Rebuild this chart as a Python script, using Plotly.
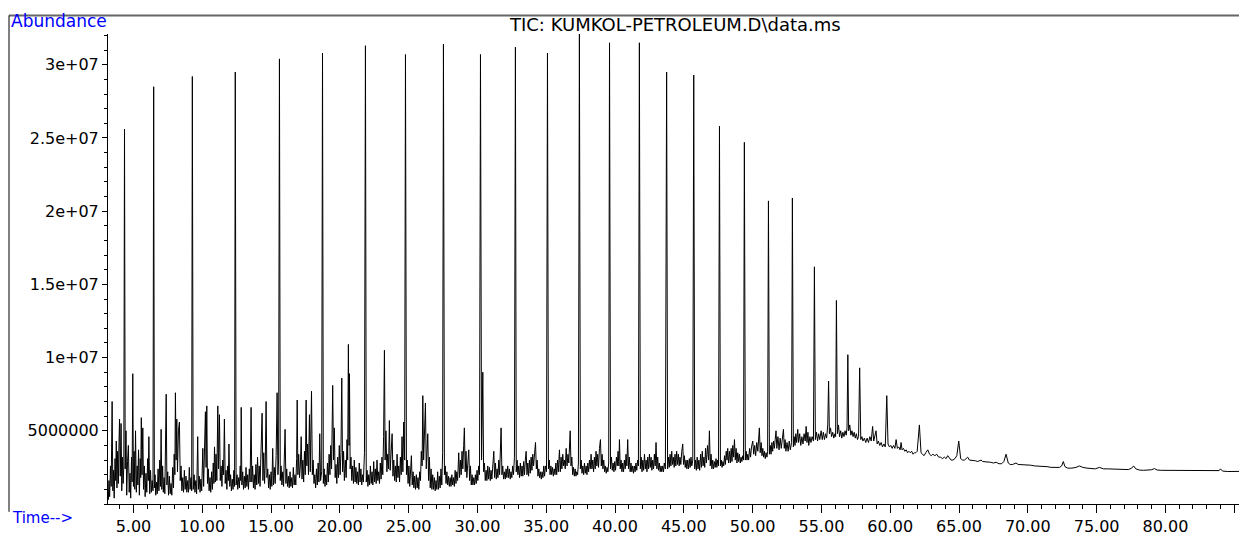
import plotly.graph_objects as go

# ---------------------------------------------------------------- data
# Retention time (min) / abundance (millions of counts).

# n-alkane series: the tall regular peaks
alkane_rt = [4.35, 6.47, 9.28, 12.40, 15.61, 18.74, 21.86, 24.77, 27.53, 30.22,
             32.76, 35.09, 37.41, 39.60, 41.77, 43.75, 45.72, 47.59, 49.40,
             51.15, 52.89, 54.49, 56.09]
alkane_abund = [25.6, 28.5, 29.2, 29.5, 30.4, 30.8, 31.3, 30.7, 31.4, 30.7,
                31.2, 30.8, 32.1, 31.5, 31.5, 29.5, 29.3, 25.8, 24.7,
                20.7, 20.9, 16.2, 13.9]

# dense grass of small peaks, 3 - 25 min
trace_early = [
    (3.15, 1.0), (3.18, 0.3), (3.22, 1.6), (3.27, 0.5), (3.33, 2.6), (3.38, 1.2),
    (3.45, 7.0), (3.50, 0.9), (3.55, 2.3), (3.60, 0.4), (3.66, 3.1), (3.71, 1.6),
    (3.75, 4.3), (3.80, 1.1), (3.85, 3.6), (3.90, 1.4), (3.95, 4.2), (3.99, 5.8),
    (4.04, 1.9), (4.10, 5.5), (4.15, 0.9), (4.20, 3.2), (4.25, 1.4), (4.30, 2.6),
    (4.40, 2.4), (4.46, 5.0), (4.51, 0.6), (4.57, 2.9), (4.63, 4.0), (4.69, 0.8),
    (4.75, 2.1), (4.80, 0.4), (4.86, 3.2), (4.90, 1.5), (4.95, 8.9), (5.00, 1.2),
    (5.05, 3.6), (5.10, 1.0), (5.15, 5.0), (5.21, 0.8), (5.27, 2.6), (5.32, 1.3),
    (5.37, 3.7), (5.43, 0.6), (5.49, 3.1), (5.53, 1.8), (5.57, 5.9), (5.62, 2.0),
    (5.68, 5.2), (5.73, 1.0), (5.79, 2.6), (5.85, 0.5), (5.91, 2.1), (5.97, 0.8),
    (6.03, 3.1), (6.08, 1.6), (6.12, 4.6), (6.18, 0.7), (6.24, 2.3), (6.30, 0.8),
    (6.36, 1.6), (6.42, 0.9), (6.52, 1.1), (6.57, 2.0), (6.62, 0.6), (6.68, 1.5),
    (6.73, 0.7), (6.79, 2.4), (6.85, 0.9), (6.91, 3.0), (6.96, 1.2), (7.01, 5.1),
    (7.06, 1.0), (7.12, 2.6), (7.17, 0.8), (7.23, 1.8), (7.28, 0.7), (7.33, 3.5),
    (7.38, 7.5), (7.43, 1.3), (7.49, 2.2), (7.55, 0.6), (7.61, 1.9), (7.67, 0.7),
    (7.73, 1.4), (7.79, 0.6), (7.85, 2.5), (7.91, 1.1), (7.96, 3.4), (8.01, 2.0),
    (8.05, 7.6), (8.10, 3.0), (8.15, 5.8), (8.20, 2.2), (8.27, 5.0), (8.34, 5.6),
    (8.40, 1.6), (8.46, 2.6), (8.52, 0.9), (8.58, 1.8), (8.64, 0.8), (8.70, 2.3),
    (8.76, 1.0), (8.82, 1.9), (8.88, 0.8), (8.94, 1.6), (9.00, 0.8), (9.06, 2.5),
    (9.12, 1.0), (9.18, 1.8), (9.23, 0.9), (9.34, 1.0), (9.41, 2.0), (9.47, 0.8),
    (9.53, 1.6), (9.59, 0.7), (9.63, 2.5), (9.67, 4.6), (9.72, 1.0), (9.78, 1.9),
    (9.84, 0.8), (9.90, 1.7), (9.96, 0.9), (10.04, 3.8), (10.10, 1.2), (10.16, 3.0),
    (10.23, 6.3), (10.28, 2.5), (10.33, 6.7), (10.38, 1.4), (10.44, 2.4), (10.50, 0.9),
    (10.56, 1.8), (10.62, 0.8), (10.68, 2.2), (10.74, 1.0), (10.80, 2.8), (10.85, 1.4),
    (10.89, 3.9), (10.95, 1.5), (11.00, 3.4), (11.06, 1.6), (11.13, 6.7), (11.18, 2.4),
    (11.25, 6.1), (11.31, 1.6), (11.37, 2.6), (11.43, 1.2), (11.49, 3.0), (11.55, 2.0),
    (11.61, 5.8), (11.67, 1.4), (11.73, 2.3), (11.79, 1.0), (11.85, 2.6), (11.90, 1.6),
    (11.94, 4.1), (12.00, 1.2), (12.06, 2.0), (12.12, 0.9), (12.18, 1.7), (12.24, 1.0),
    (12.30, 2.3), (12.35, 1.2), (12.46, 1.3), (12.53, 2.0), (12.58, 1.0), (12.64, 1.8),
    (12.70, 1.1), (12.76, 2.6), (12.80, 1.6), (12.83, 6.6), (12.88, 1.3), (12.94, 2.2),
    (13.00, 1.0), (13.06, 1.9), (13.12, 1.1), (13.18, 2.5), (13.24, 1.2), (13.30, 2.0),
    (13.36, 1.0), (13.42, 2.4), (13.48, 1.5), (13.55, 6.6), (13.60, 1.5), (13.66, 2.6),
    (13.72, 1.1), (13.78, 2.0), (13.84, 1.0), (13.90, 2.7), (13.96, 1.3), (14.02, 3.2),
    (14.08, 1.4), (14.14, 2.6), (14.20, 1.2), (14.27, 4.0), (14.35, 6.2), (14.41, 1.6),
    (14.47, 3.5), (14.53, 1.4), (14.58, 2.8), (14.64, 7.0), (14.70, 1.8), (14.76, 2.4),
    (14.82, 1.1), (14.88, 2.0), (14.94, 1.0), (15.00, 2.2), (15.06, 1.2), (15.12, 3.8),
    (15.18, 1.3), (15.24, 2.5), (15.30, 1.4), (15.37, 3.3), (15.44, 7.6), (15.50, 2.0),
    (15.55, 3.0), (15.67, 1.6), (15.73, 2.6), (15.79, 1.3), (15.85, 2.2), (15.91, 1.2),
    (15.96, 3.0), (16.02, 5.1), (16.08, 1.4), (16.14, 2.4), (16.20, 1.2), (16.26, 1.9),
    (16.32, 1.1), (16.38, 2.2), (16.44, 1.2), (16.50, 1.8), (16.56, 1.1), (16.62, 2.5),
    (16.68, 1.3), (16.74, 2.0), (16.80, 1.3), (16.86, 3.1), (16.90, 7.1), (16.95, 2.0),
    (17.01, 3.4), (17.07, 1.8), (17.13, 2.6), (17.19, 4.6), (17.25, 1.7), (17.31, 3.0),
    (17.37, 1.5), (17.43, 3.6), (17.49, 2.0), (17.55, 7.1), (17.60, 2.6), (17.66, 4.1),
    (17.72, 2.0), (17.79, 6.1), (17.85, 2.2), (17.94, 7.7), (18.00, 2.0), (18.06, 3.0),
    (18.12, 1.4), (18.18, 2.0), (18.24, 1.1), (18.30, 2.4), (18.36, 1.3), (18.42, 2.8),
    (18.48, 1.5), (18.54, 4.8), (18.60, 1.6), (18.68, 2.2), (18.80, 1.4), (18.86, 2.4),
    (18.92, 1.2), (18.98, 2.0), (19.04, 1.3), (19.10, 2.8), (19.16, 1.5), (19.22, 3.4),
    (19.28, 2.0), (19.34, 4.0), (19.40, 2.4), (19.48, 8.1), (19.54, 3.0), (19.60, 5.2),
    (19.66, 1.8), (19.72, 2.7), (19.78, 1.4), (19.84, 3.2), (19.90, 1.8), (19.96, 4.0),
    (20.02, 2.0), (20.08, 3.5), (20.14, 8.6), (20.20, 2.2), (20.27, 3.6), (20.33, 1.6),
    (20.40, 3.0), (20.46, 1.8), (20.52, 4.4), (20.57, 3.0), (20.62, 10.9), (20.67, 4.0),
    (20.70, 8.9), (20.75, 2.4), (20.81, 3.2), (20.87, 1.6), (20.93, 2.6), (20.99, 1.4),
    (21.05, 3.0), (21.11, 1.5), (21.17, 2.5), (21.23, 1.4), (21.29, 2.2), (21.35, 1.3),
    (21.41, 2.8), (21.47, 1.5), (21.53, 2.4), (21.59, 1.3), (21.65, 2.0), (21.71, 1.5),
    (21.79, 3.5), (21.92, 1.5), (21.98, 2.3), (22.04, 1.2), (22.10, 2.0), (22.16, 1.3),
    (22.22, 2.6), (22.28, 1.4), (22.34, 2.2), (22.40, 1.3), (22.46, 2.9), (22.52, 1.5),
    (22.58, 2.4), (22.64, 1.4), (22.70, 3.0), (22.76, 1.6), (22.82, 2.2), (22.88, 1.4),
    (22.94, 2.8), (23.00, 1.7), (23.06, 3.2), (23.12, 2.0), (23.18, 4.6), (23.24, 10.5),
    (23.29, 3.0), (23.35, 5.0), (23.42, 2.2), (23.48, 3.4), (23.54, 2.4), (23.60, 5.7),
    (23.66, 2.3), (23.74, 3.6), (23.80, 4.8), (23.86, 1.9), (23.92, 3.0), (23.98, 1.6),
    (24.04, 2.6), (24.10, 1.5), (24.16, 3.4), (24.22, 1.8), (24.28, 2.6), (24.34, 1.5),
    (24.40, 3.2), (24.46, 2.0), (24.52, 4.6), (24.58, 2.2), (24.64, 5.6), (24.71, 3.0),
]

# 25 - 46 min: grass thins out, baseline creeps up
trace_mid = [
    (24.84, 2.0), (24.90, 3.0), (24.96, 1.4), (25.02, 2.6), (25.08, 1.2), (25.14, 2.4),
    (25.20, 3.3), (25.26, 1.3), (25.32, 2.2), (25.38, 1.1), (25.44, 1.9), (25.50, 1.0),
    (25.56, 2.0), (25.62, 1.1), (25.68, 1.8), (25.74, 1.0), (25.80, 2.2), (25.86, 1.6),
    (25.92, 3.6), (25.98, 2.6), (26.03, 7.4), (26.09, 3.0), (26.15, 5.0), (26.22, 6.9),
    (26.28, 2.4), (26.33, 4.2), (26.39, 4.8), (26.45, 1.6), (26.51, 3.2), (26.57, 1.1),
    (26.63, 2.4), (26.69, 1.0), (26.75, 2.0), (26.81, 1.0), (26.87, 1.8), (26.93, 0.9),
    (26.99, 1.6), (27.05, 1.0), (27.11, 2.2), (27.17, 1.0), (27.23, 1.9), (27.29, 1.1),
    (27.35, 2.4), (27.41, 1.3), (27.47, 3.5), (27.60, 2.0), (27.66, 2.6), (27.72, 1.4),
    (27.78, 2.2), (27.84, 1.3), (27.90, 1.9), (27.96, 1.2), (28.02, 1.8), (28.08, 1.2),
    (28.14, 2.0), (28.20, 1.3), (28.26, 1.8), (28.32, 1.2), (28.38, 2.3), (28.44, 1.4),
    (28.50, 2.2), (28.56, 1.6), (28.64, 3.5), (28.70, 1.8), (28.76, 3.0), (28.82, 2.0),
    (28.88, 3.6), (28.94, 2.4), (29.00, 4.0), (29.05, 5.2), (29.11, 2.2), (29.17, 3.6),
    (29.23, 1.8), (29.30, 3.0), (29.37, 3.7), (29.43, 1.6), (29.49, 2.6), (29.55, 1.3),
    (29.61, 2.0), (29.67, 1.3), (29.73, 1.8), (29.79, 1.3), (29.85, 2.0), (29.91, 1.4),
    (29.97, 2.3), (30.03, 1.6), (30.09, 2.6), (30.15, 2.0), (30.30, 3.0), (30.39, 9.0),
    (30.45, 2.2), (30.51, 2.8), (30.57, 1.6), (30.63, 2.3), (30.69, 1.6), (30.75, 2.6),
    (30.81, 1.7), (30.87, 2.5), (30.93, 1.6), (30.99, 2.3), (31.05, 1.7), (31.12, 2.8),
    (31.19, 3.6), (31.25, 1.8), (31.31, 2.8), (31.37, 1.7), (31.43, 2.4), (31.49, 1.8),
    (31.55, 3.0), (31.61, 2.0), (31.66, 3.4), (31.72, 5.2), (31.78, 2.0), (31.84, 2.6),
    (31.90, 1.7), (31.96, 2.2), (32.02, 1.7), (32.08, 2.4), (32.14, 1.8), (32.20, 2.6),
    (32.26, 1.8), (32.32, 2.4), (32.38, 1.7), (32.44, 2.2), (32.50, 1.8), (32.56, 2.6),
    (32.62, 2.0), (32.69, 3.2), (32.82, 2.2), (32.88, 3.0), (32.94, 2.0), (33.00, 2.6),
    (33.06, 1.8), (33.12, 2.8), (33.18, 1.9), (33.24, 2.6), (33.30, 1.9), (33.36, 2.9),
    (33.42, 2.0), (33.48, 3.0), (33.54, 3.6), (33.60, 2.0), (33.66, 2.8), (33.72, 1.9),
    (33.78, 3.0), (33.84, 2.1), (33.90, 3.2), (33.96, 2.3), (34.02, 3.4), (34.08, 2.6),
    (34.15, 3.8), (34.22, 4.2), (34.28, 2.4), (34.34, 3.0), (34.40, 1.9), (34.46, 2.4),
    (34.52, 1.8), (34.58, 2.2), (34.64, 1.7), (34.70, 2.2), (34.76, 1.8), (34.82, 2.6),
    (34.88, 1.9), (34.94, 2.6), (35.02, 2.2), (35.16, 2.4), (35.22, 3.0), (35.28, 2.0),
    (35.34, 2.6), (35.40, 2.0), (35.46, 2.5), (35.52, 1.9), (35.58, 2.4), (35.64, 2.0),
    (35.70, 2.8), (35.76, 2.0), (35.82, 3.0), (35.88, 2.2), (35.96, 3.7), (36.02, 2.2),
    (36.08, 3.2), (36.14, 2.4), (36.20, 3.4), (36.26, 2.6), (36.32, 3.0), (36.38, 2.4),
    (36.45, 3.8), (36.51, 2.6), (36.58, 3.4), (36.64, 2.8), (36.70, 4.0), (36.74, 5.0),
    (36.80, 2.6), (36.86, 3.2), (36.92, 2.0), (36.98, 2.5), (37.04, 1.9), (37.10, 2.4),
    (37.16, 1.9), (37.22, 2.2), (37.28, 2.0), (37.34, 2.8), (37.48, 2.4), (37.54, 3.0),
    (37.60, 2.1), (37.66, 2.6), (37.72, 2.0), (37.78, 2.8), (37.84, 2.1), (37.90, 2.6),
    (37.96, 2.0), (38.02, 2.8), (38.08, 2.2), (38.14, 3.0), (38.20, 2.4), (38.26, 3.4),
    (38.32, 2.4), (38.38, 3.0), (38.44, 2.2), (38.50, 3.2), (38.56, 2.4), (38.62, 3.6),
    (38.68, 2.6), (38.74, 3.4), (38.80, 2.5), (38.87, 3.8), (38.94, 4.4), (39.00, 2.6),
    (39.06, 3.4), (39.12, 2.4), (39.18, 3.0), (39.24, 2.2), (39.30, 2.6), (39.36, 2.1),
    (39.42, 2.5), (39.48, 2.2), (39.54, 2.8), (39.67, 2.4), (39.74, 3.2), (39.80, 2.3),
    (39.86, 2.8), (39.92, 2.2), (39.98, 2.9), (40.04, 2.3), (40.10, 3.2), (40.16, 2.6),
    (40.22, 3.6), (40.28, 2.6), (40.32, 4.4), (40.38, 2.4), (40.44, 3.0), (40.50, 2.2),
    (40.56, 2.8), (40.62, 2.2), (40.68, 3.0), (40.74, 2.4), (40.80, 3.4), (40.86, 2.6),
    (40.92, 4.4), (40.98, 2.4), (41.04, 3.2), (41.10, 2.2), (41.16, 2.8), (41.22, 2.2),
    (41.28, 2.6), (41.34, 2.1), (41.40, 2.6), (41.46, 2.2), (41.52, 2.8), (41.58, 2.3),
    (41.64, 3.0), (41.70, 2.6), (41.84, 2.4), (41.90, 3.2), (41.96, 2.2), (42.02, 3.0),
    (42.08, 2.3), (42.14, 3.4), (42.20, 2.4), (42.26, 3.0), (42.32, 2.2), (42.38, 3.2),
    (42.44, 2.4), (42.50, 3.4), (42.56, 2.5), (42.62, 3.2), (42.68, 2.3), (42.74, 3.0),
    (42.80, 2.4), (42.86, 3.4), (42.92, 2.6), (42.98, 4.2), (43.04, 2.4), (43.10, 3.2),
    (43.16, 2.3), (43.22, 2.8), (43.28, 2.2), (43.34, 2.6), (43.40, 2.2), (43.46, 2.6),
    (43.52, 2.2), (43.58, 2.8), (43.66, 2.4), (43.82, 2.4), (43.88, 3.2), (43.94, 2.5),
    (44.00, 3.4), (44.06, 2.6), (44.12, 3.6), (44.18, 2.7), (44.24, 3.2), (44.30, 2.5),
    (44.36, 3.4), (44.42, 2.6), (44.48, 3.6), (44.54, 2.7), (44.60, 3.4), (44.66, 2.6),
    (44.72, 3.2), (44.78, 2.7), (44.85, 3.6), (44.92, 4.1), (44.98, 2.7), (45.04, 3.3),
    (45.10, 2.5), (45.16, 3.0), (45.22, 2.4), (45.28, 3.0), (45.34, 2.4), (45.40, 3.1),
    (45.46, 2.5), (45.52, 3.2), (45.58, 2.6), (45.65, 3.0),
]

# 46 - 62 min: the unresolved hump
trace_hump = [
    (45.79, 2.4), (45.85, 3.0), (45.91, 2.3), (45.97, 3.2), (46.03, 2.4), (46.09, 3.0),
    (46.15, 2.3), (46.22, 3.4), (46.28, 2.5), (46.34, 3.6), (46.40, 2.6), (46.46, 3.2),
    (46.52, 2.5), (46.58, 3.8), (46.64, 2.8), (46.72, 4.0), (46.80, 3.0), (46.86, 5.0),
    (46.92, 2.6), (46.98, 3.4), (47.04, 2.4), (47.10, 3.0), (47.16, 2.4), (47.22, 2.9),
    (47.28, 2.5), (47.34, 3.1), (47.40, 2.5), (47.46, 3.0), (47.52, 2.6), (47.66, 2.6),
    (47.72, 3.0), (47.78, 2.5), (47.84, 2.9), (47.90, 2.6), (47.96, 3.3), (48.02, 2.7),
    (48.08, 3.6), (48.14, 3.0), (48.19, 3.8), (48.25, 2.8), (48.32, 3.6), (48.38, 2.8),
    (48.44, 3.8), (48.50, 2.9), (48.56, 4.0), (48.62, 3.2), (48.68, 4.4), (48.74, 3.0),
    (48.80, 3.8), (48.86, 2.8), (48.92, 3.5), (48.98, 2.9), (49.04, 3.4), (49.10, 2.8),
    (49.16, 3.2), (49.22, 2.9), (49.28, 3.3), (49.34, 3.0), (49.47, 3.0), (49.53, 3.6),
    (49.59, 3.0), (49.65, 3.4), (49.71, 3.0), (49.78, 3.8), (49.85, 3.2), (49.92, 3.9),
    (50.01, 4.3), (50.08, 3.4), (50.15, 4.0), (50.22, 3.3), (50.30, 4.2), (50.38, 3.6),
    (50.44, 4.6), (50.49, 5.2), (50.55, 3.5), (50.62, 4.2), (50.68, 3.3), (50.74, 3.8),
    (50.80, 3.2), (50.86, 3.6), (50.92, 3.1), (50.98, 3.5), (51.04, 3.2), (51.09, 3.6),
    (51.22, 3.4), (51.28, 4.0), (51.34, 3.4), (51.40, 4.2), (51.46, 3.6), (51.52, 4.3),
    (51.58, 3.8), (51.64, 4.4), (51.70, 5.0), (51.76, 3.8), (51.84, 4.6), (51.92, 3.7),
    (52.00, 4.5), (52.08, 3.8), (52.16, 4.6), (52.24, 5.1), (52.30, 3.8), (52.36, 4.4),
    (52.42, 3.6), (52.50, 4.2), (52.58, 3.6), (52.66, 4.3), (52.74, 3.7), (52.83, 4.2),
    (52.96, 3.9), (53.02, 4.6), (53.08, 4.0), (53.14, 4.8), (53.20, 4.2), (53.28, 5.1),
    (53.34, 4.2), (53.42, 4.8), (53.50, 4.0), (53.58, 4.6), (53.66, 4.1), (53.74, 4.8),
    (53.82, 4.3), (53.89, 5.3), (53.95, 4.2), (54.02, 4.9), (54.08, 4.0), (54.16, 4.6),
    (54.24, 4.2), (54.32, 4.6), (54.42, 4.3), (54.56, 4.4), (54.64, 4.9), (54.72, 4.3),
    (54.80, 4.8), (54.88, 4.4), (54.98, 5.0), (55.06, 4.4), (55.14, 4.9), (55.22, 4.4),
    (55.30, 4.8), (55.38, 4.5), (55.46, 5.4), (55.52, 8.4), (55.58, 4.8), (55.66, 5.2),
    (55.74, 4.6), (55.82, 4.9), (55.90, 4.5), (55.98, 4.8), (56.03, 4.6), (56.16, 4.8),
    (56.24, 5.4), (56.32, 4.6), (56.40, 5.0), (56.48, 4.5), (56.56, 4.9), (56.64, 4.6),
    (56.72, 5.0), (56.80, 4.7), (56.86, 5.2), (56.92, 10.2), (56.98, 5.0), (57.06, 5.4),
    (57.14, 4.7), (57.22, 5.0), (57.30, 4.6), (57.38, 4.9), (57.46, 4.5), (57.54, 4.8),
    (57.62, 4.4), (57.70, 4.6), (57.78, 9.3), (57.86, 4.4), (57.94, 4.6), (58.02, 4.3),
    (58.12, 4.5), (58.22, 4.2), (58.32, 4.5), (58.42, 4.2), (58.52, 4.6), (58.62, 4.3),
    (58.72, 5.3), (58.80, 4.3), (58.90, 4.7), (58.97, 5.0), (59.05, 4.1), (59.14, 4.3),
    (59.24, 4.0), (59.34, 4.2), (59.44, 3.9), (59.54, 4.1), (59.64, 3.9), (59.75, 7.4),
    (59.84, 4.1), (59.94, 3.9), (60.04, 4.0), (60.14, 3.8), (60.24, 4.0), (60.34, 3.8),
    (60.43, 4.4), (60.52, 3.8), (60.62, 3.9), (60.72, 3.7), (60.79, 4.2), (60.86, 3.7),
    (60.96, 3.8), (61.06, 3.6), (61.16, 3.7), (61.26, 3.5), (61.36, 3.6), (61.46, 3.5),
    (61.56, 3.6), (61.66, 3.4), (61.76, 3.5), (61.86, 3.5), (61.96, 3.6),
]

# 62 min to end: bleeding baseline with a few late peaks
trace_tail = [
    (62.12, 5.4), (62.24, 3.5), (62.34, 3.4), (62.46, 3.3), (62.58, 3.5), (62.73, 3.7),
    (62.86, 3.4), (62.98, 3.3), (63.10, 3.4), (63.24, 3.3), (63.38, 3.4), (63.52, 3.2),
    (63.66, 3.2), (63.80, 3.1), (63.94, 3.2), (64.06, 3.1), (64.18, 3.3), (64.30, 3.1),
    (64.42, 3.0), (64.56, 3.0), (64.70, 3.1), (64.84, 3.3), (64.98, 4.3), (65.12, 3.1),
    (65.26, 3.0), (65.40, 3.0), (65.52, 3.1), (65.63, 3.2), (65.76, 3.0), (65.90, 3.0),
    (66.04, 2.95), (66.20, 2.95), (66.36, 2.9), (66.50, 2.95), (66.60, 3.0), (66.72, 2.9),
    (66.90, 2.9), (67.10, 2.85), (67.30, 2.85), (67.50, 2.8), (67.70, 2.85), (67.90, 2.75),
    (68.10, 2.75), (68.26, 2.9), (68.42, 3.4), (68.58, 2.8), (68.72, 2.7), (68.90, 2.7),
    (69.04, 2.75), (69.14, 2.8), (69.30, 2.7), (69.50, 2.7), (69.70, 2.65), (69.90, 2.65),
    (70.20, 2.65), (70.50, 2.6), (70.80, 2.6), (71.10, 2.6), (71.40, 2.55), (71.70, 2.5),
    (72.00, 2.5), (72.30, 2.5), (72.46, 2.6), (72.58, 2.9), (72.70, 2.55), (72.90, 2.45),
    (73.20, 2.45), (73.50, 2.5), (73.75, 2.6), (74.00, 2.5), (74.30, 2.45), (74.60, 2.45),
    (74.90, 2.4), (75.20, 2.5), (75.50, 2.4), (75.80, 2.4), (76.10, 2.38), (76.40, 2.38),
    (76.70, 2.35), (77.00, 2.35), (77.30, 2.35), (77.55, 2.45), (77.69, 2.6), (77.85, 2.4),
    (78.10, 2.32), (78.40, 2.3), (78.70, 2.32), (79.00, 2.34), (79.20, 2.42), (79.40, 2.32),
    (79.70, 2.3), (80.00, 2.3), (80.40, 2.28), (80.80, 2.28), (81.20, 2.28), (81.60, 2.26),
    (82.00, 2.27), (82.40, 2.25), (82.80, 2.26), (83.20, 2.25), (83.60, 2.26), (83.90, 2.28),
    (84.00, 2.4), (84.15, 2.25), (84.50, 2.22), (84.90, 2.23), (85.30, 2.22), (85.80, 2.23),
]

x_tick_vals = [5, 10, 15, 20, 25, 30, 35, 40, 45, 50, 55, 60, 65, 70, 75, 80, 85]
x_tick_text = ["5.00", "10.00", "15.00", "20.00", "25.00", "30.00", "35.00", "40.00",
               "45.00", "50.00", "55.00", "60.00", "65.00", "70.00", "75.00", "80.00", ""]
y_tick_vals = [5e6, 1e7, 1.5e7, 2e7, 2.5e7, 3e7]
y_tick_text = ["5000000", "1e+07", "1.5e+07", "2e+07", "2.5e+07", "3e+07"]

# ---------------------------------------------------------------- build trace
points = trace_early + trace_mid + trace_hump + trace_tail
points += list(zip(alkane_rt, alkane_abund))
points.sort(key=lambda p: p[0])
rt = [p[0] for p in points]
abund = [p[1] * 1e6 for p in points]

FONT = "DejaVu Sans"
BLUE = "#0000ff"

# page body has an 8px margin, so the figure is 8px smaller than the window
PAGE_OFF = 8
PLOT_L, PLOT_R, PLOT_T, PLOT_B = 108, 1247, 34, 515   # plot area in window pixels
PW, PH = PLOT_R - PLOT_L, PLOT_B - PLOT_T


def px(x):
    return (x - PLOT_L) / PW


def py(y):
    return (PLOT_B - y) / PH


fig = go.Figure()
fig.add_trace(go.Scatter(x=rt, y=abund, mode="lines",
                         line=dict(color="black", width=1),
                         hoverinfo="skip", showlegend=False))

fig.update_layout(
    width=1247 - PAGE_OFF, height=536 - PAGE_OFF,
    margin=dict(l=PLOT_L - PAGE_OFF, r=0, t=PLOT_T - PAGE_OFF, b=536 - PLOT_B),
    paper_bgcolor="white", plot_bgcolor="white",
    font=dict(family=FONT, size=16, color="black"),
    xaxis=dict(range=[3.15, 85.93], showgrid=False, zeroline=False,
               showline=True, linecolor="black", linewidth=1,
               tickmode="array", tickvals=x_tick_vals, ticktext=x_tick_text,
               ticks="outside", ticklen=8, tickwidth=1, tickcolor="black",
               minor=dict(tickmode="linear", tick0=0, dtick=1, ticks="outside",
                          ticklen=4, tickwidth=1, tickcolor="black"),
               tickfont=dict(family=FONT, size=16)),
    yaxis=dict(range=[0, max(abund)], showgrid=False, zeroline=False,
               showline=True, linecolor="black", linewidth=1,
               tickmode="array", tickvals=y_tick_vals, ticktext=y_tick_text,
               ticks="outside", ticklen=5, tickwidth=1, tickcolor="black",
               minor=dict(tickmode="linear", tick0=0, dtick=1e6, ticks="outside",
                          ticklen=3, tickwidth=1, tickcolor="black"),
               tickfont=dict(family=FONT, size=16)),
)

# frame lines of the instrument printout
fig.add_shape(type="line", xref="paper", yref="paper",
              x0=px(9), x1=1.0, y0=py(15), y1=py(15),
              line=dict(color="#666666", width=2))
fig.add_shape(type="line", xref="paper", yref="paper",
              x0=px(9), x1=px(9), y0=py(15), y1=py(523),
              line=dict(color="black", width=1))

fig.add_annotation(text="Abundance", xref="paper", yref="paper",
                   x=px(9), y=py(21), xanchor="left", yanchor="middle",
                   showarrow=False, font=dict(family=FONT, size=17, color=BLUE))
fig.add_annotation(text="Time-->", xref="paper", yref="paper",
                   x=px(10), y=py(529), xanchor="left", yanchor="middle",
                   showarrow=False, font=dict(family=FONT, size=15, color=BLUE))
fig.add_annotation(text="TIC: KUMKOL-PETROLEUM.D\\data.ms", xref="paper", yref="paper",
                   x=px(675), y=py(24), xanchor="center", yanchor="middle",
                   showarrow=False, font=dict(family=FONT, size=18, color="black"))

fig.write_html("out.html")
